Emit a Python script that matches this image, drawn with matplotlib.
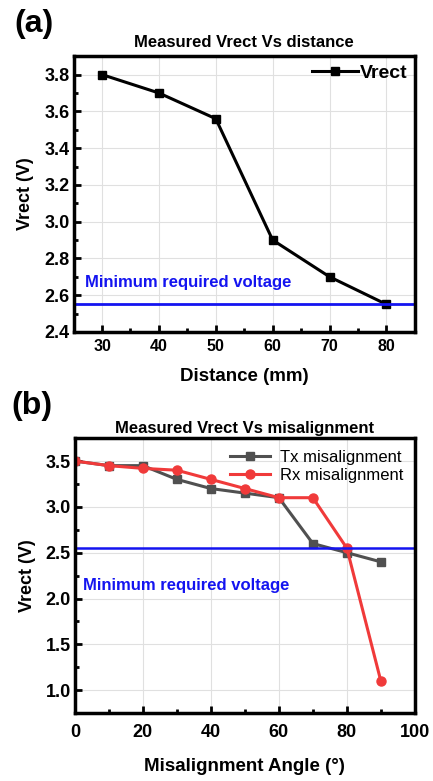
import numpy as np
import matplotlib
matplotlib.use("Agg")
import matplotlib.pyplot as plt
from matplotlib.ticker import MultipleLocator

plt.rcParams['font.family'] = ['Liberation Sans', 'DejaVu Sans']

# (a) Vrect vs distance
distance = [30, 40, 50, 60, 70, 80]
vrect_dist = [3.80, 3.70, 3.56, 2.90, 2.70, 2.55]

# (b) Vrect vs misalignment angle
angle = [0, 10, 20, 30, 40, 50, 60, 70, 80, 90]
vrect_tx = [3.50, 3.45, 3.45, 3.30, 3.20, 3.15, 3.10, 2.60, 2.50, 2.40]
vrect_rx = [3.50, 3.45, 3.42, 3.40, 3.30, 3.20, 3.10, 3.10, 2.55, 1.10]

v_min = 2.55


def style_axes(ax, xsize, ysize, xpad):
    for s in ax.spines.values():
        s.set_linewidth(2.5)
    ax.tick_params(which='both', direction='in', width=2)
    ax.tick_params(which='major', length=5)
    ax.tick_params(which='minor', length=3)
    ax.tick_params(axis='x', labelsize=xsize, pad=xpad)
    ax.tick_params(axis='y', labelsize=ysize, pad=3)
    for lab in ax.get_xticklabels() + ax.get_yticklabels():
        lab.set_fontweight('bold')
    ax.grid(True, which='major', color='#e0e0e0', linewidth=0.8)
    ax.set_axisbelow(True)


fig = plt.figure(figsize=(4.33, 7.81), dpi=100)

# ---- panel (a)
ax1 = fig.add_axes([0.170, 0.575, 0.788, 0.353])
ax1.plot(distance, vrect_dist, color='black', lw=2.2, marker='s', ms=6, label='Vrect')
ax1.axhline(v_min, color='#1414f0', lw=2)
ax1.text(27, 2.63, 'Minimum required voltage', color='#1414f0', fontsize=12,
         fontweight='bold', va='bottom')
ax1.set_xlim(25, 85)
ax1.set_ylim(2.4, 3.9)
ax1.xaxis.set_major_locator(MultipleLocator(10))
ax1.xaxis.set_minor_locator(MultipleLocator(5))
ax1.yaxis.set_major_locator(MultipleLocator(0.2))
ax1.yaxis.set_minor_locator(MultipleLocator(0.1))
ax1.yaxis.set_major_formatter(plt.FormatStrFormatter('%.1f'))
style_axes(ax1, 11.5, 13, 5)
ax1.set_xlabel('Distance (mm)', fontsize=13.5, fontweight='bold', labelpad=10)
ax1.set_ylabel('Vrect (V)', fontsize=13, fontweight='bold', labelpad=7)
ax1.set_title('Measured Vrect Vs distance', fontsize=12, fontweight='bold', pad=7)
ax1.legend(loc='upper right', frameon=False, handlelength=2.4, handletextpad=0.05,
           borderaxespad=0.0, prop={'weight': 'bold', 'size': 14})
fig.text(0.033, 0.969, '(a)', fontsize=23, fontweight='bold', va='center')

# ---- panel (b)
ax2 = fig.add_axes([0.173, 0.087, 0.785, 0.352])
ax2.plot(angle, vrect_tx, color='#505050', lw=2.2, marker='s', ms=6, label='Tx misalignment')
ax2.plot(angle, vrect_rx, color='#f03a3a', lw=2.2, marker='o', ms=6.5, label='Rx misalignment')
ax2.axhline(v_min, color='#1414f0', lw=1.8)
ax2.text(2.5, 2.14, 'Minimum required voltage', color='#1414f0', fontsize=12,
         fontweight='bold', va='center')
ax2.set_xlim(0, 100)
ax2.set_ylim(0.75, 3.75)
ax2.xaxis.set_major_locator(MultipleLocator(20))
ax2.xaxis.set_minor_locator(MultipleLocator(10))
ax2.yaxis.set_major_locator(MultipleLocator(0.5))
ax2.yaxis.set_minor_locator(MultipleLocator(0.25))
ax2.yaxis.set_major_formatter(plt.FormatStrFormatter('%.1f'))
style_axes(ax2, 13, 13, 8)
ax2.set_xlabel('Misalignment Angle (°)', fontsize=13.5, fontweight='bold', labelpad=12)
ax2.set_ylabel('Vrect (V)', fontsize=13, fontweight='bold', labelpad=7)
ax2.set_title('Measured Vrect Vs misalignment', fontsize=12, fontweight='bold', pad=4)
ax2.legend(loc='upper right', frameon=False, handlelength=2.4, handletextpad=0.6,
           borderaxespad=0.3, labelspacing=0.2, prop={'size': 12})
fig.text(0.027, 0.48, '(b)', fontsize=23, fontweight='bold', va='center')

fig.savefig('out.png', dpi=100)
